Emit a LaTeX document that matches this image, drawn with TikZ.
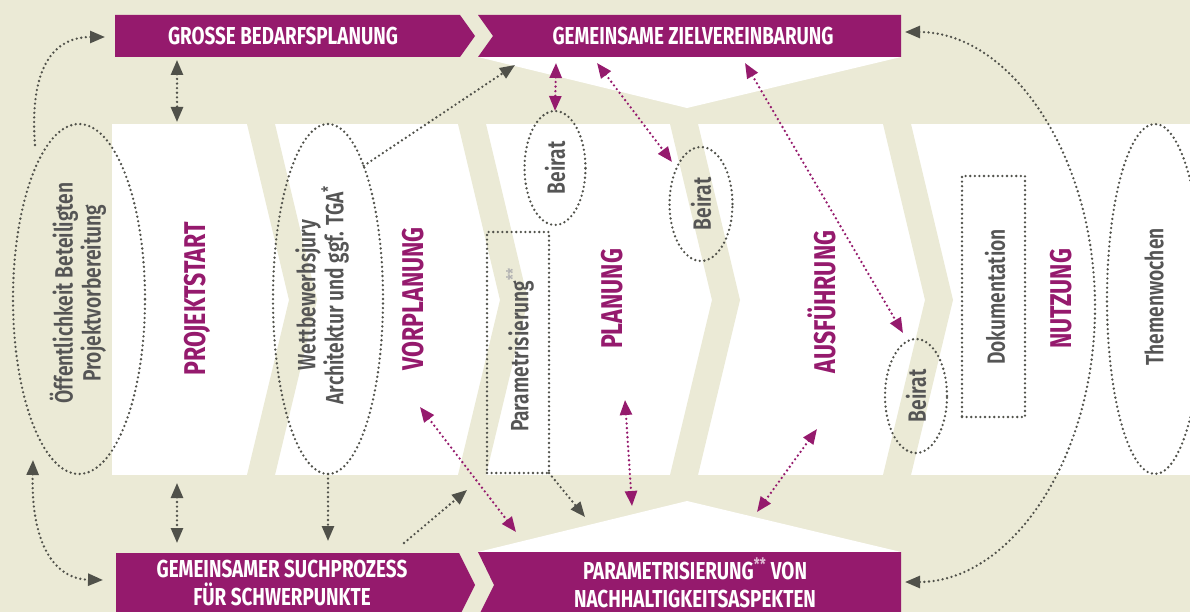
\documentclass[tikz,border=0pt]{standalone}
\usepackage{fontspec}
\setmainfont{Fira Sans}[FakeStretch=0.77]
\newfontfamily\grayfont{Fira Sans SemiBold}[FakeStretch=0.77]
\usetikzlibrary{arrows.meta,shapes.geometric}
\definecolor{beige}{HTML}{EBEAD6}
\definecolor{lila}{HTML}{951A6D}
\definecolor{dunkel}{HTML}{50514A}
\definecolor{grautxt}{HTML}{555555}

\begin{document}
\begin{tikzpicture}[x=1pt,y=-1pt,
  dots/.style={line width=2.6pt,dash pattern=on 0pt off 4.6pt,line cap=round},
  gto/.style={dots,draw=dunkel,-{Triangle[length=15pt,width=12pt]}},
  gboth/.style={dots,draw=dunkel,{Triangle[length=15pt,width=12pt]}-{Triangle[length=15pt,width=12pt]}},
  pboth/.style={dots,draw=lila,{Triangle[length=15pt,width=12pt]}-{Triangle[length=15pt,width=12pt]}},
  ell/.style={ellipse,draw=dunkel,dots,inner sep=0pt,outer sep=0pt},
  dbox/.style={rectangle,draw=dunkel,dots,inner sep=0pt,outer sep=0pt},
  bartxt/.style={text=white,font=\bfseries\fontsize{24.5}{28}\selectfont,align=center,inner sep=0pt},
  phase/.style={text=lila,font=\bfseries\fontsize{30}{36}\selectfont,rotate=90,inner sep=0pt},
  lbl/.style={text=grautxt,font=\grayfont\fontsize{25}{28}\selectfont,rotate=90,align=center,inner sep=0pt}]
  \clip (0,0) rectangle (1190,612);
  \fill[beige] (0,0) rectangle (1190,612);
  \fill[white] (112,124) rectangle (1190,475);
  \foreach \cx in {247,458,670,883}
    \fill[beige] (\cx,124) -- (\cx+28,124) -- (\cx+70,300) -- (\cx+28,475) -- (\cx,475) -- (\cx+42,300) -- cycle;
  \fill[white] (478,57) -- (687,108) -- (901,57) -- cycle;
  \fill[white] (478,552) -- (687,501) -- (901,552) -- cycle;
  \fill[lila] (115,15) -- (460,15) -- (475,36) -- (460,57) -- (115,57) -- cycle;
  \fill[lila] (478,15) -- (901,15) -- (901,57) -- (478,57) -- (493,36) -- cycle;
  \fill[lila] (116,553) -- (459,553) -- (475,585) -- (459,617) -- (116,617) -- cycle;
  \fill[lila] (478,552) -- (901,552) -- (901,617) -- (478,617) -- (494,585) -- cycle;

  \node[bartxt] (grosse) at (283,36) {GROSSE BEDARFSPLANUNG};
  \node[bartxt] (ziel) at (693,36) {GEMEINSAME ZIELVEREINBARUNG};
  \node[bartxt] (such) at (282,583) {GEMEINSAMER SUCHPROZESS\\FÜR SCHWERPUNKTE};
  \node[bartxt] (param) at (695,583) {PARAMETRISIERUNG\textsuperscript{\color{white!70!lila}**} VON\\NACHHALTIGKEITSASPEKTEN};

  \node[ell,minimum width=132pt,minimum height=350pt] (oeff) at (79,299) {};
  \node[ell,minimum width=110pt,minimum height=350pt] (jury) at (328,299) {};
  \node[ell,minimum width=61pt,minimum height=114pt] (beirat1) at (555,168) {};
  \node[ell,minimum width=63pt,minimum height=114pt] (beirat2) at (701,204) {};
  \node[ell,minimum width=62pt,minimum height=114pt] (beirat3) at (916,396) {};
  \node[ell,minimum width=96pt,minimum height=350pt] (themen) at (1155,299) {};
  \node[dbox,minimum width=62pt,minimum height=241pt] (paramr) at (518,352.5) {};
  \node[dbox,minimum width=63pt,minimum height=241pt] (doku) at (993.5,296.5) {};

  \node[lbl] (oefftxt) at (78,293) {Öffentlichkeit Beteiligten\\Projektvorbereitung};
  \node[lbl] (jurytxt) at (322,295) {Wettbewerbsjury\\Architektur und ggf. TGA\textsuperscript{*}};
  \node[lbl] at (beirat1) {Beirat};
  \node[lbl] at (beirat2) {Beirat};
  \node[lbl] at (beirat3) {Beirat};
  \node[lbl] (paramtxt) at (520,350) {Parametrisierung\textsuperscript{\color{gray!60}**}};
  \node[lbl] (dokutxt) at (995,297) {Dokumentation};
  \node[lbl] (themtxt) at (1154,297) {Themenwochen};

  \node[phase] (projektstart) at (197,299) {PROJEKTSTART};
  \node[phase] (vorplanung) at (413,299) {VORPLANUNG};
  \node[phase] (planung) at (612,299) {PLANUNG};
  \node[phase] (ausfuehrung) at (822,302) {AUSFÜHRUNG};
  \node[phase] (nutzung) at (1061,299) {NUTZUNG};

  \coordinate (a1s) at (35,145); \coordinate (a1e) at (105,37);
  \coordinate (a2s) at (33,460); \coordinate (a2e) at (103,580);
  \coordinate (a3s) at (177,60); \coordinate (a3e) at (177,122);
  \coordinate (a4s) at (177,483); \coordinate (a4e) at (177,543);
  \coordinate (a5) at (328,541); \coordinate (a6) at (515,65);
  \coordinate (a7s) at (404,543); \coordinate (a7e) at (467,490);
  \coordinate (a8) at (585,517);
  \coordinate (p1) at (556,63);
  \coordinate (p2s) at (597,63); \coordinate (p2e) at (672,162);
  \coordinate (p3s) at (745,63); \coordinate (p3e) at (903,333);
  \coordinate (p4s) at (420,407); \coordinate (p4e) at (516,532);
  \coordinate (p5s) at (625,400); \coordinate (p5e) at (632,506);
  \coordinate (p6s) at (817,429); \coordinate (p6e) at (757,512);
  \coordinate (bogen1) at (905,32); \coordinate (bogen2) at (905,582);

  \draw[gto] (a1s) .. controls (29,65) and (55,37) .. (a1e);
  \draw[gboth] (a2s) .. controls (31,545) and (55,579) .. (a2e);
  \draw[gboth] (a3s) -- (a3e); \draw[gboth] (a4s) -- (a4e);
  \draw[gto] (jury.south) -- (a5); \draw[gto] (jury.75) -- (a6);
  \draw[gto] (a7s) -- (a7e); \draw[gto] (paramr.south east) -- (a8);
  \draw[gboth] (bogen1) .. controls (1010,32) and (1095,155) .. (1095,307)
    .. controls (1095,460) and (1010,582) .. (bogen2);
  \draw[pboth] (p1) -- (beirat1.north);
  \draw[pboth] (p2s) -- (p2e); \draw[pboth] (p3s) -- (p3e);
  \draw[pboth] (p4s) -- (p4e); \draw[pboth] (p5s) -- (p5e);
  \draw[pboth] (p6s) -- (p6e);
\end{tikzpicture}
\end{document}
